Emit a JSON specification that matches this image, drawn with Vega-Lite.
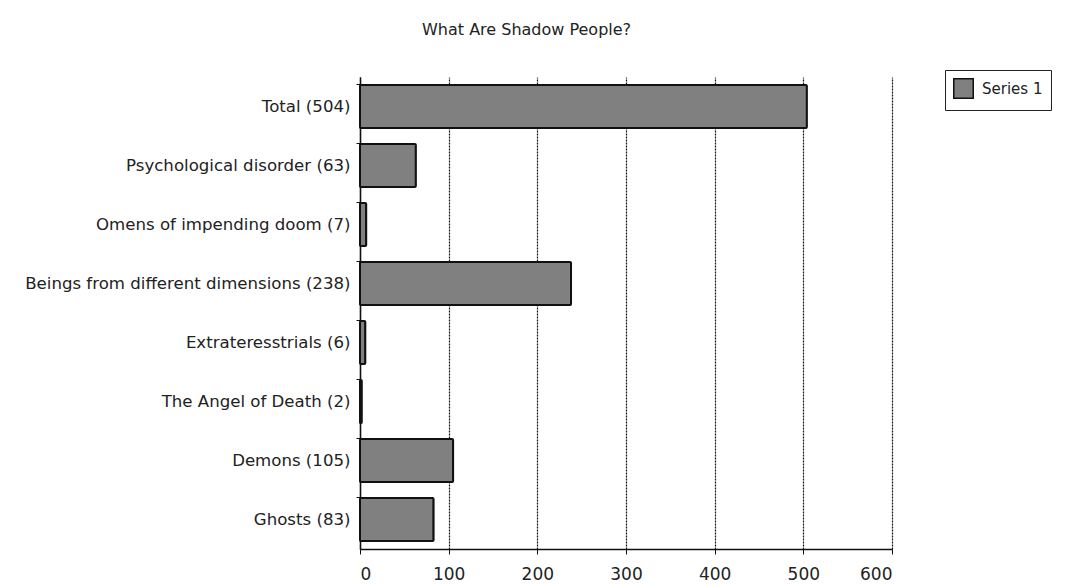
{
  "$schema": "https://vega.github.io/schema/vega-lite/v6.json",
  "width": 532,
  "height": 472,
  "autosize": {"type": "none"},
  "padding": {"left": 360, "top": 77, "right": 174, "bottom": 37},
  "background": "white",
  "title": {
    "text": "What Are Shadow People?",
    "anchor": "start",
    "frame": "group",
    "dx": 62,
    "offset": 32,
    "font": "DejaVu Sans",
    "fontSize": 16,
    "fontWeight": "normal",
    "color": "#222"
  },
  "data": {
    "values": [
      {"label": "Total (504)", "value": 504, "series": "Series 1"},
      {"label": "Psychological disorder (63)", "value": 63, "series": "Series 1"},
      {"label": "Omens of impending doom (7)", "value": 7, "series": "Series 1"},
      {"label": "Beings from different dimensions (238)", "value": 238, "series": "Series 1"},
      {"label": "Extrateresstrials (6)", "value": 6, "series": "Series 1"},
      {"label": "The Angel of Death (2)", "value": 2, "series": "Series 1"},
      {"label": "Demons (105)", "value": 105, "series": "Series 1"},
      {"label": "Ghosts (83)", "value": 83, "series": "Series 1"}
    ]
  },
  "mark": {"type": "bar", "stroke": "#111", "strokeWidth": 2, "cornerRadius": 1},
  "encoding": {
    "y": {
      "field": "label",
      "type": "nominal",
      "sort": null,
      "title": null,
      "scale": {"paddingInner": 0.27, "paddingOuter": 0.135},
      "axis": {
        "bandPosition": 0,
        "tickSize": 4,
        "tickColor": "#111",
        "domainColor": "#111",
        "domainWidth": 1.5,
        "labelFont": "DejaVu Sans",
        "labelFontSize": 16.6,
        "labelColor": "#222",
        "labelPadding": 6,
        "labelLimit": 400,
        "grid": false
      }
    },
    "x": {
      "field": "value",
      "type": "quantitative",
      "title": null,
      "scale": {"domain": [0, 600], "nice": false},
      "axis": {
        "values": [0, 100, 200, 300, 400, 500, 600],
        "tickSize": 5,
        "tickColor": "#111",
        "domainColor": "#111",
        "domainWidth": 1.5,
        "labelFont": "DejaVu Sans",
        "labelFontSize": 17,
        "labelColor": "#222",
        "labelPadding": 12,
        "grid": true,
        "gridColor": "#111",
        "gridDash": [2, 1],
        "gridWidth": 1.2
      }
    },
    "color": {
      "field": "series",
      "type": "nominal",
      "scale": {"range": ["#808080"]},
      "legend": {
        "title": null,
        "orient": "none",
        "legendX": 585,
        "legendY": -7,
        "strokeColor": "#222",
        "padding": 8,
        "symbolType": "square",
        "symbolSize": 380,
        "symbolStrokeColor": "#111",
        "symbolStrokeWidth": 1.5,
        "labelFont": "DejaVu Sans",
        "labelFontSize": 15,
        "labelColor": "#222",
        "labelOffset": 8
      }
    }
  },
  "config": {"view": {"stroke": null}}
}
